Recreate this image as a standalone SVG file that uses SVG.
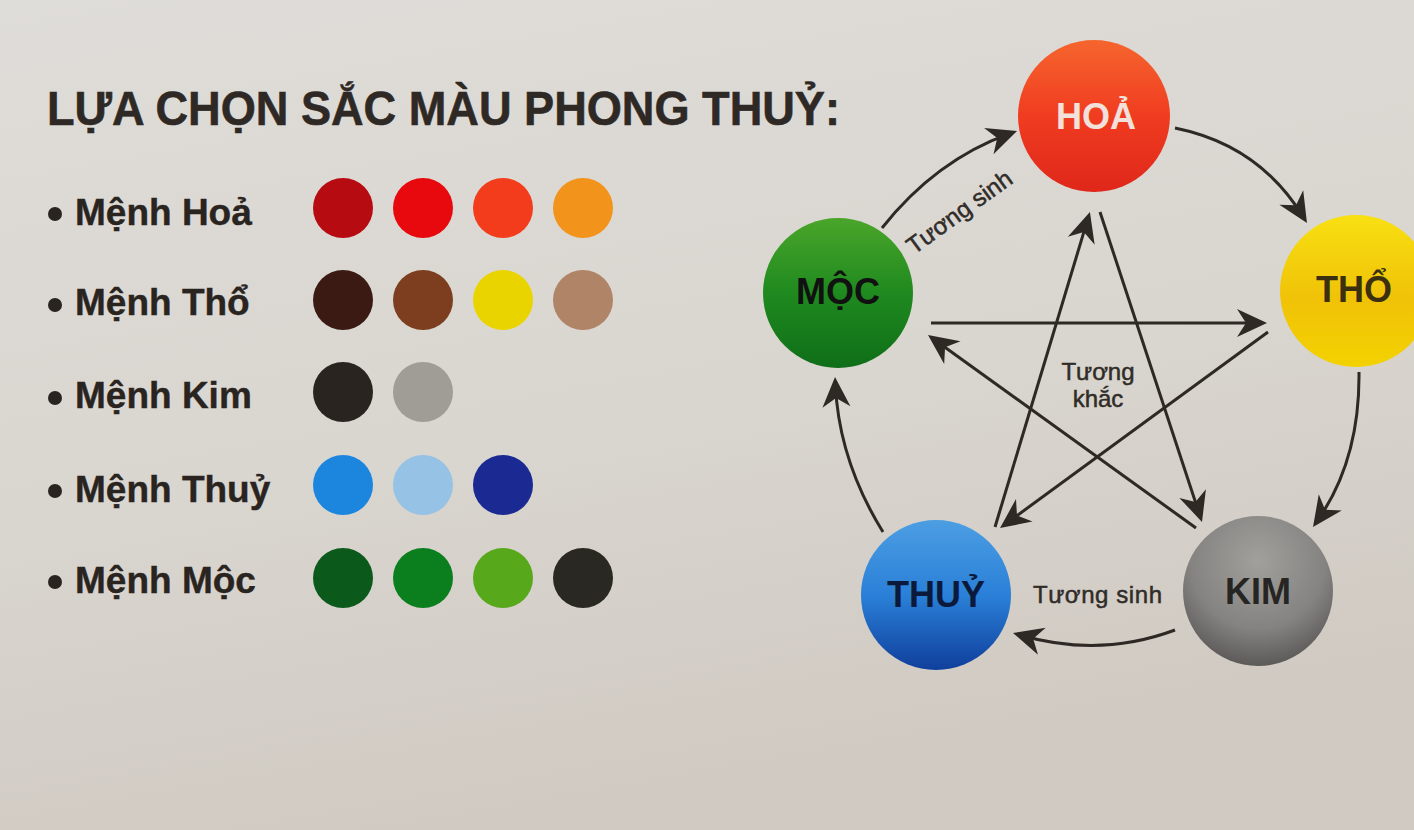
<svg xmlns="http://www.w3.org/2000/svg" width="1414" height="830" viewBox="0 0 1414 830">
  <defs>
    <linearGradient id="bg" x1="0" y1="0" x2="0.3" y2="1">
      <stop offset="0" stop-color="#dfddd9"/>
      <stop offset="0.6" stop-color="#d9d5cf"/>
      <stop offset="1" stop-color="#d0cac2"/>
    </linearGradient>
    <linearGradient id="gHoa" x1="0" y1="0" x2="0" y2="1">
      <stop offset="0" stop-color="#f6652e"/>
      <stop offset="0.5" stop-color="#f03c20"/>
      <stop offset="1" stop-color="#df271a"/>
    </linearGradient>
    <linearGradient id="gMoc" x1="0" y1="0" x2="0" y2="1">
      <stop offset="0" stop-color="#4aa52a"/>
      <stop offset="0.5" stop-color="#1f8a1f"/>
      <stop offset="1" stop-color="#0f6e18"/>
    </linearGradient>
    <linearGradient id="gTho" x1="0" y1="0" x2="0" y2="1">
      <stop offset="0" stop-color="#f8e012"/>
      <stop offset="0.55" stop-color="#f0c208"/>
      <stop offset="1" stop-color="#f3d200"/>
    </linearGradient>
    <linearGradient id="gThuy" x1="0" y1="0" x2="0" y2="1">
      <stop offset="0" stop-color="#4c9ee2"/>
      <stop offset="0.5" stop-color="#2a80d8"/>
      <stop offset="1" stop-color="#0f3f9c"/>
    </linearGradient>
    <radialGradient id="gKim" cx="0.5" cy="0.3" r="0.75">
      <stop offset="0" stop-color="#a2a09c"/>
      <stop offset="0.6" stop-color="#858381"/>
      <stop offset="1" stop-color="#545250"/>
    </radialGradient>
    <marker id="arrow" markerUnits="userSpaceOnUse" viewBox="-32 -16 34 32" markerWidth="34" markerHeight="32" refX="-8" refY="0" orient="auto">
      <path d="M0,0 L-30,-14 L-21,0 L-30,14 Z" fill="#2e2925"/>
    </marker>
    <style>
      .title { font-family: "Liberation Sans", Arial, sans-serif; font-weight: 700; font-size: 48px; fill: #2e2925; stroke: #2e2925; stroke-width: 0.6; }
      .item { font-family: "Liberation Sans", Arial, sans-serif; font-weight: 700; font-size: 37px; fill: #2a2420; stroke: #2a2420; stroke-width: 0.4; }
      .bullet { fill: #2a2420; }
      .node { font-family: "Liberation Sans", Arial, sans-serif; font-weight: 700; font-size: 36px; text-anchor: middle; }
      .lbl { font-family: "Liberation Sans", Arial, sans-serif; font-size: 24px; fill: #302c28; stroke: #302c28; stroke-width: 0.5; }
      .link { fill: none; stroke: #2e2925; stroke-width: 3; marker-end: url(#arrow); }
    </style>
  </defs>

  <!-- paper background -->
  <rect x="0" y="0" width="1414" height="830" fill="url(#bg)"/>

  <!-- heading -->
  <text class="title" x="47" y="125" textLength="793" lengthAdjust="spacingAndGlyphs">LỰA CHỌN SẮC MÀU PHONG THUỶ:</text>

  <!-- colour list -->
  <g id="legend">
    <g id="row-hoa">
      <circle class="bullet" cx="55" cy="214" r="7"/>
      <text class="item" x="75" y="225">Mệnh Hoả</text>
      <circle cx="343" cy="208" r="30" fill="#b70b12"/>
      <circle cx="423" cy="208" r="30" fill="#e8090f"/>
      <circle cx="503" cy="208" r="30" fill="#f23c1c"/>
      <circle cx="583" cy="208" r="30" fill="#f2941c"/>
    </g>
    <g id="row-tho">
      <circle class="bullet" cx="55" cy="305" r="7"/>
      <text class="item" x="75" y="315">Mệnh Thổ</text>
      <circle cx="343" cy="300" r="30" fill="#3c1a14"/>
      <circle cx="423" cy="300" r="30" fill="#7c3e1e"/>
      <circle cx="503" cy="300" r="30" fill="#ead400"/>
      <circle cx="583" cy="300" r="30" fill="#b08466"/>
    </g>
    <g id="row-kim">
      <circle class="bullet" cx="55" cy="398" r="7"/>
      <text class="item" x="75" y="408">Mệnh Kim</text>
      <circle cx="343" cy="392" r="30" fill="#2a2420"/>
      <circle cx="423" cy="392" r="30" fill="#a09c96"/>
    </g>
    <g id="row-thuy">
      <circle class="bullet" cx="55" cy="491" r="7"/>
      <text class="item" x="75" y="502">Mệnh Thuỷ</text>
      <circle cx="343" cy="485" r="30" fill="#1c86de"/>
      <circle cx="423" cy="485" r="30" fill="#96c2e6"/>
      <circle cx="503" cy="485" r="30" fill="#1a2a92"/>
    </g>
    <g id="row-moc">
      <circle class="bullet" cx="55" cy="582" r="7"/>
      <text class="item" x="75" y="593">Mệnh Mộc</text>
      <circle cx="343" cy="578" r="30" fill="#0b5a1c"/>
      <circle cx="423" cy="578" r="30" fill="#0b7e1e"/>
      <circle cx="503" cy="578" r="30" fill="#58a81c"/>
      <circle cx="583" cy="578" r="30" fill="#2a2822"/>
    </g>
  </g>

  <!-- connectors: generating cycle (outer arcs) and controlling cycle (star) -->
  <g id="connectors">
    <path class="link" d="M882,228 Q936,160 1009.5,133.7"/>
    <path class="link" d="M1175,128 Q1259,145 1302.8,216.2"/>
    <path class="link" d="M1359,372 Q1360,460 1317.6,520.4"/>
    <path class="link" d="M1175,630 Q1100,658 1020.7,635.2"/>
    <path class="link" d="M883,532 Q839,461 835.4,385"/>

    <path class="link" d="M931,323 L1259,323"/>
    <path class="link" d="M1268,332 L1006.5,523.3"/>
    <path class="link" d="M995,527 L1087.6,219.6"/>
    <path class="link" d="M1100,212 L1199.5,514.4"/>
    <path class="link" d="M1196,528 L934.5,339.7"/>

    <text class="lbl" transform="translate(914,255) rotate(-36)">Tương sinh</text>
    <text class="lbl" x="1033" y="603" textLength="129">Tương sinh</text>
    <text class="lbl" x="1098" y="380" text-anchor="middle">Tương</text>
    <text class="lbl" x="1098" y="407" text-anchor="middle">khắc</text>
  </g>

  <!-- the five elements -->
  <g id="node-hoa">
    <circle cx="1094" cy="116" r="76" fill="url(#gHoa)"/>
    <text class="node" x="1096" y="129" fill="#f2e0da">HOẢ</text>
  </g>
  <g id="node-tho">
    <circle cx="1356" cy="291" r="76" fill="url(#gTho)"/>
    <text class="node" x="1354" y="302" fill="#3a3010">THỔ</text>
  </g>
  <g id="node-kim">
    <circle cx="1258" cy="591" r="75" fill="url(#gKim)"/>
    <text class="node" x="1258" y="604" fill="#262524">KIM</text>
  </g>
  <g id="node-thuy">
    <circle cx="936" cy="595" r="75" fill="url(#gThuy)"/>
    <text class="node" x="936" y="607" fill="#0b1a3a">THUỶ</text>
  </g>
  <g id="node-moc">
    <circle cx="838" cy="293" r="75" fill="url(#gMoc)"/>
    <text class="node" x="838" y="304" fill="#111111">MỘC</text>
  </g>
</svg>
